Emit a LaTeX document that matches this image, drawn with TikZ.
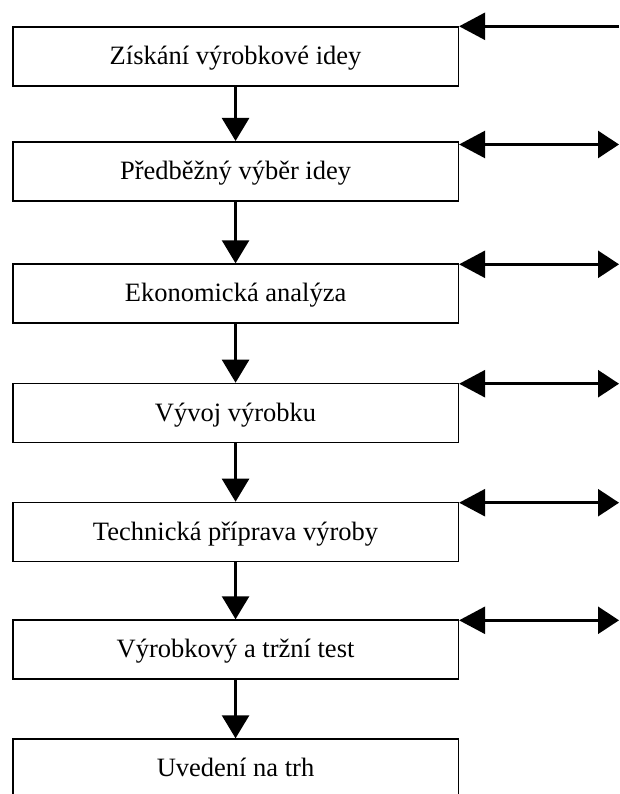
\documentclass[tikz,border=0pt]{standalone}
\usepackage{fontspec}
\setmainfont{Liberation Serif}
\usetikzlibrary{arrows.meta}

\begin{document}
\begin{tikzpicture}[x=1pt,y=-1pt,
  stage/.style={draw=black, line width=1.6pt, fill=white, anchor=north west,
    minimum width=445.5pt, minimum height=59pt, inner sep=0pt,
    text height=22pt, text depth=6pt,
    font=\fontsize{26.5pt}{30pt}\selectfont},
  flow/.style={line width=2.6pt, -{Triangle[length=23pt,width=27pt]}},
  feed/.style={line width=2.6pt, -{Triangle[length=26pt,width=27pt]}},
  both/.style={line width=2.6pt, {Triangle[length=26pt,width=27pt]}-{Triangle[length=21pt,width=27pt]}}
]
\useasboundingbox (0,0) rectangle (619,794);

% process stages
\node[stage] (s1) at (12,26.3)  {Získání výrobkové idey};
\node[stage] (s2) at (12,141)   {Předběžný výběr idey};
\node[stage] (s3) at (12,263.3) {Ekonomická analýza};
\node[stage] (s4) at (12,382.7) {Vývoj výrobku};
\node[stage] (s5) at (12,501.7) {Technická příprava výroby};
\node[stage] (s6) at (12,619.3) {Výrobkový a tržní test};
\node[stage] (s7) at (12,738.3) {Uvedení na trh};

% downward flow between stages
\foreach \a/\b in {s1/s2, s2/s3, s3/s4, s4/s5, s5/s6, s6/s7}
  \draw[flow] (\a.south) -- (\b.north);

% incoming arrow at the first stage
\coordinate (in1) at (619,26.3);
\draw[feed] (in1) -- (s1.north east);

% two-way links at the right of the other stages
\foreach \s/\dy in {s2/3.5, s3/1, s4/1, s5/1, s6/1}{
  \coordinate (\s l) at ([yshift=-\dy pt]\s.north east);
  \coordinate (\s r) at (619,0 |- \s l);
  \draw[both] (\s l) -- (\s r);
}
\end{tikzpicture}
\end{document}
